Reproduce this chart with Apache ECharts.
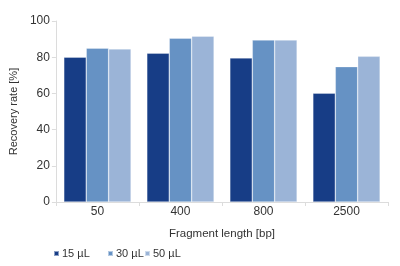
<!DOCTYPE html>
<html><head><meta charset="utf-8">
<script src="https://cdn.jsdelivr.net/npm/echarts@6/dist/echarts.min.js"></script>
<style>html,body{margin:0;padding:0;background:#fff}#c{width:400px;height:266px}</style>
</head><body><div id="c"></div>
<script>
const categories = ['50', '400', '800', '2500'];
const s15 = [80, 82.2, 79.6, 60.1];
const s30 = [85, 90.5, 89.5, 74.8];
const s50 = [84.6, 91.6, 89.5, 80.5];
const seriesNames = ['15 µL', '30 µL', '50 µL'];
const colors = ['#173d86', '#6692c4', '#9bb4d7'];

const chart = echarts.init(document.getElementById('c'), null, {renderer: 'canvas'});
const font = 'Liberation Sans, Arial, sans-serif';
const mk = (name, data, color) => ({
  name, type: 'bar', data, barGap: '0%', barCategoryGap: '19%',
  itemStyle: {color, borderColor: 'rgba(255,255,255,0.5)', borderWidth: 0.6},
  emphasis: {disabled: true}
});
const legendLefts = [53, 107, 144];
const legends = seriesNames.map((n, i) => ({
  left: legendLefts[i], top: 248, padding: 0, itemWidth: 5, itemHeight: 5, itemGap: 0,
  icon: 'rect', selectedMode: false,
  textStyle: {fontSize: 11, color: '#333', fontFamily: font, padding: [0, 0, 0, -2]},
  data: [n]
}));
chart.setOption({
  animation: false,
  textStyle: {fontFamily: font},
  grid: {left: 53, right: 12, top: 21, bottom: 64},
  legend: legends,
  xAxis: {
    type: 'category', data: categories,
    name: 'Fragment length [bp]', nameLocation: 'middle', nameGap: 26,
    nameTextStyle: {fontSize: 11.5, color: '#333', fontFamily: font},
    axisLine: {lineStyle: {color: '#dcdcdc', width: 1}},
    axisTick: {show: true, length: 4, lineStyle: {color: '#dcdcdc'}},
    axisLabel: {fontSize: 12, color: '#333', margin: 4, fontFamily: font}
  },
  yAxis: {
    type: 'value', min: 0, max: 100, interval: 20,
    name: 'Recovery rate [%]', nameLocation: 'middle', nameGap: 34, nameRotate: 90,
    nameTextStyle: {fontSize: 11, color: '#333', fontFamily: font},
    axisLine: {show: true, lineStyle: {color: '#dcdcdc', width: 1}},
    axisTick: {show: true, length: 4, lineStyle: {color: '#dcdcdc'}},
    axisLabel: {fontSize: 12, color: '#333', margin: 6, fontFamily: font},
    splitLine: {show: false}
  },
  series: [mk(seriesNames[0], s15, colors[0]), mk(seriesNames[1], s30, colors[1]), mk(seriesNames[2], s50, colors[2])]
});
</script></body></html>
